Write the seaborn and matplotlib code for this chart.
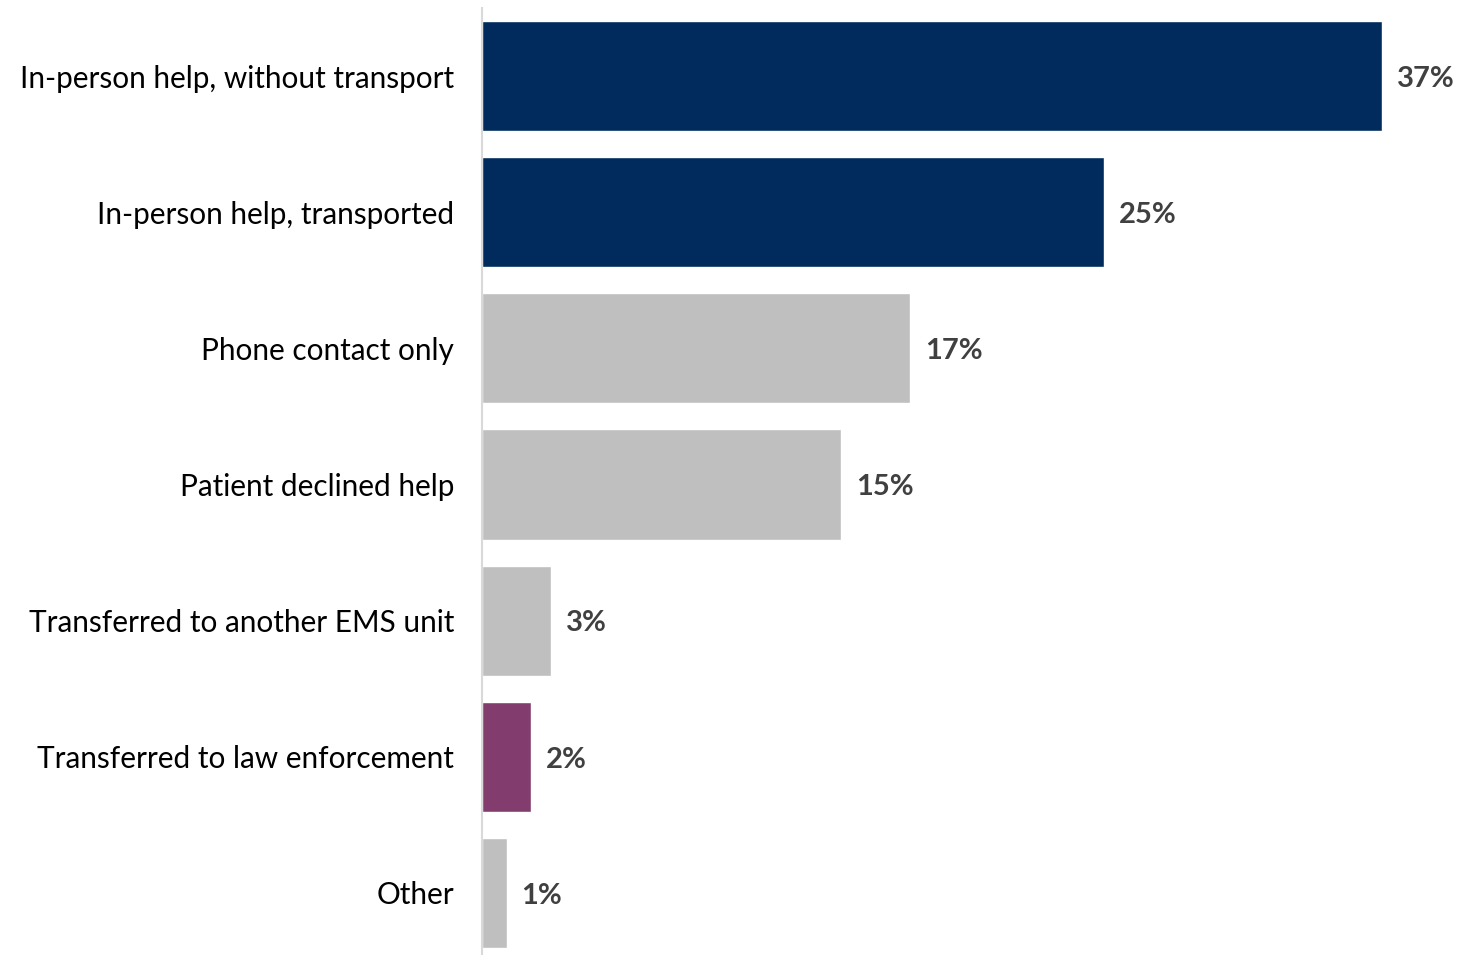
import matplotlib
matplotlib.use("Agg")
import matplotlib.pyplot as plt
import seaborn as sns
import pandas as pd

categories = ['In-person help, without transport', 'In-person help, transported',
              'Phone contact only', 'Patient declined help',
              'Transferred to another EMS unit', 'Transferred to law enforcement', 'Other']
shares = [36.6, 25.3, 17.4, 14.6, 2.8, 2.0, 1.0]
labels = ['37%', '25%', '17%', '15%', '3%', '2%', '1%']
bar_colors = ['#002B5C', '#002B5C', '#BFBFBF', '#BFBFBF', '#BFBFBF', '#833C6E', '#BFBFBF']

df = pd.DataFrame({'category': categories, 'share': shares})

sns.set_style('white')
plt.rcParams['font.family'] = ['Lato', 'DejaVu Sans']

fig = plt.figure(figsize=(14.61, 9.55), dpi=100)
ax = fig.add_axes([482 / 1461, -6 / 955, 979 / 1461, 953 / 955])

sns.barplot(data=df, x='share', y='category', hue='category', palette=bar_colors,
            order=categories, width=0.81, legend=False, ax=ax, saturation=1)

for i, (v, lab) in enumerate(zip(shares, labels)):
    ax.text(v + 0.6, i + 0.02, lab, va='center', ha='left', fontsize=21,
            fontweight='bold', color='#404040')

ax.set_xlim(0, 39.8)
ax.set_ylim(6.5, -0.5)
ax.set_xlabel('')
ax.set_ylabel('')
ax.set_xticks([])
ax.tick_params(axis='y', length=0, pad=20, labelsize=21.4, labelcolor='black')
for side in ['top', 'right', 'bottom']:
    ax.spines[side].set_visible(False)
ax.spines['left'].set_color('#D9D9D9')
ax.spines['left'].set_linewidth(1.5)

fig.savefig('out.png', dpi=100)
